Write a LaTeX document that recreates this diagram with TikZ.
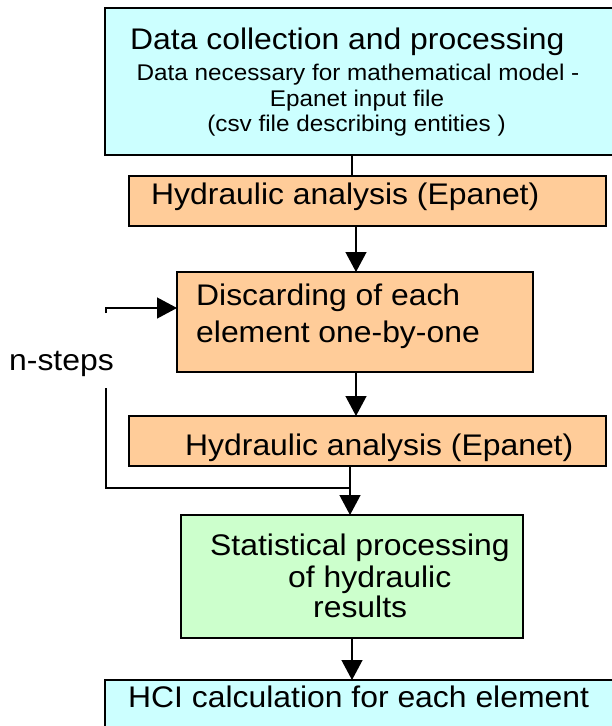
\documentclass[tikz,border=0pt]{standalone}
\usepackage{fontspec}
\setmainfont[FakeStretch=1.07]{Liberation Sans}
\usetikzlibrary{arrows.meta}
\definecolor{paleCyan}{HTML}{CCFFFF}
\definecolor{paleOrange}{HTML}{FFCC99}
\definecolor{paleGreen}{HTML}{CCFFCC}

\begin{document}
\begin{tikzpicture}[x=1pt,y=-1pt,
  box/.style={draw=black, line width=1.3pt, inner sep=0pt, outer sep=0pt},
  big/.style={font=\fontsize{29.8}{36}\selectfont, inner sep=0pt, anchor=base west},
  small/.style={font=\fontsize{22.7}{26}\selectfont, inner sep=0pt, anchor=base},
  link/.style={line width=1.3pt},
  flow/.style={link, -{Triangle[length=20pt,width=21pt]}},
]
\useasboundingbox (0,0) rectangle (612,726);
\clip (0,0) rectangle (612,726);

% boxes
\node[box, fill=paleCyan,   minimum width=515pt, minimum height=147pt] (collect)  at (362.5,81.5) {};
\node[box, fill=paleOrange, minimum width=477pt, minimum height=50pt]  (hydroA)   at (367.5,201) {};
\node[box, fill=paleOrange, minimum width=356pt, minimum height=100pt] (discard)  at (355,322) {};
\node[box, fill=paleOrange, minimum width=477pt, minimum height=50pt]  (hydroB)   at (367.5,441) {};
\node[box, fill=paleGreen,  minimum width=342pt, minimum height=123pt] (stats)    at (352,576.5) {};
\node[box, fill=paleCyan,   minimum width=515pt, minimum height=80pt]  (hci)      at (362.5,720) {};

% texts
\node[big] (tCollect) at (130,49) {Data collection and processing};
\node[small] (tNeed)  at (358,80)  {Data necessary for mathematical model -};
\node[small] (tInput) at (357,106) {Epanet input file};
\node[small] (tCsv)   at (356.5,131) {(csv file describing entities )};
\node[big] (tHydroA)  at (151,204) {Hydraulic analysis (Epanet)};
\node[big] (tDiscA)   at (196,305) {Discarding of each};
\node[big] (tDiscB)   at (196,342) {element one-by-one};
\node[big] (tHydroB)  at (185,455) {Hydraulic analysis (Epanet)};
\node[big] (tStatA)   at (210,555) {Statistical processing};
\node[big] (tStatB)   at (288,587) {of hydraulic};
\node[big] (tStatC)   at (313,617) {results};
\node[big] (tHci)     at (128,707) {HCI calculation for each element};
\node[big] (tSteps)   at (9,370)   {n-steps};

% connector columns
\coordinate (colA) at (352,0);
\coordinate (colB) at (356,0);
\coordinate (colC) at (350,0);

\draw[link] (collect.south -| colA) -- (hydroA.north -| colA);
\draw[flow] (hydroA.south -| colB) -- (discard.north -| colB);
\draw[flow] (discard.south -| colB) -- (hydroB.north -| colB);
\draw[flow] (hydroB.south -| colC) -- (stats.north -| colC);
\draw[flow] (stats.south -| colA) -- (hci.north -| colA);

% repetition loop
\coordinate (loopTop) at (106,313);
\coordinate (entry) at ([yshift=14pt]discard.west);
\draw[flow] (loopTop) |- (entry);
\coordinate (loopBot) at (106,388);
\coordinate (join) at (350,488);
\draw[link] (loopBot) |- (join);
\end{tikzpicture}
\end{document}
